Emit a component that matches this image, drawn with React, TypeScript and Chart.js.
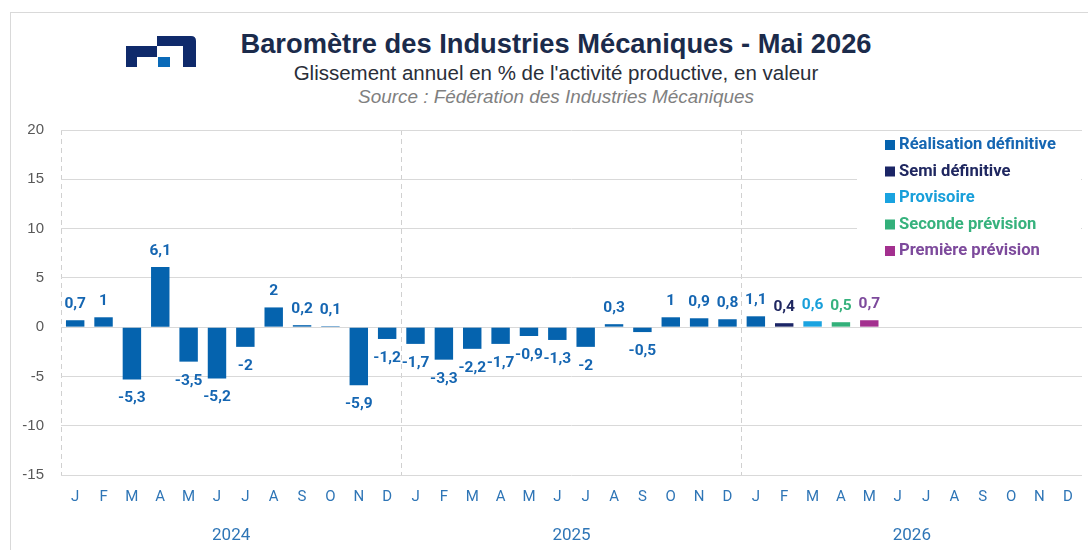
import React, { useEffect, useRef } from 'react';
import { Chart, registerables } from 'chart.js';

Chart.register(...registerables);

const N = null;

const years = ['2024', '2025', '2026'];
const monthLetters = ['J', 'F', 'M', 'A', 'M', 'J', 'J', 'A', 'S', 'O', 'N', 'D'];
const categories = years.flatMap(() => monthLetters);

const realisationDefinitive = [
  0.7, 1, -5.3, 6.1, -3.5, -5.2, -2, 2, 0.2, 0.1, -5.9, -1.2,
  -1.7, -3.3, -2.2, -1.7, -0.9, -1.3, -2, 0.3, -0.5, 1, 0.9, 0.8,
  1.1, N, N, N, N, N, N, N, N, N, N, N,
];
const semiDefinitive = [
  N, N, N, N, N, N, N, N, N, N, N, N,
  N, N, N, N, N, N, N, N, N, N, N, N,
  N, 0.4, N, N, N, N, N, N, N, N, N, N,
];
const provisoire = [
  N, N, N, N, N, N, N, N, N, N, N, N,
  N, N, N, N, N, N, N, N, N, N, N, N,
  N, N, 0.6, N, N, N, N, N, N, N, N, N,
];
const secondePrevision = [
  N, N, N, N, N, N, N, N, N, N, N, N,
  N, N, N, N, N, N, N, N, N, N, N, N,
  N, N, N, 0.5, N, N, N, N, N, N, N, N,
];
const premierePrevision = [
  N, N, N, N, N, N, N, N, N, N, N, N,
  N, N, N, N, N, N, N, N, N, N, N, N,
  N, N, N, N, 0.7, N, N, N, N, N, N, N,
];

const seriesNames = [
  'Réalisation définitive',
  'Semi définitive',
  'Provisoire',
  'Seconde prévision',
  'Première prévision',
];
const seriesValues = [realisationDefinitive, semiDefinitive, provisoire, secondePrevision, premierePrevision];
const barColors = ['#0563AE', '#1B2566', '#1AA3E0', '#33B07A', '#A3308F'];
const textColors = ['#1566B2', '#1F2760', '#189FDA', '#36B27D', '#7D4A9C'];

const fmt = (v: number) => String(v).replace('.', ',');

const dataLabelPlugin = {
  id: 'dataLabels',
  afterDatasetsDraw(chart: any) {
    const ctx = chart.ctx;
    ctx.save();
    ctx.font = 'bold 15.5px Roboto';
    ctx.textAlign = 'center';
    ctx.textBaseline = 'middle';
    chart.data.datasets.forEach((ds: any, di: number) => {
      const meta = chart.getDatasetMeta(di);
      meta.data.forEach((el: any, i: number) => {
        const v = ds.data[i];
        if (v === null || v === undefined) return;
        ctx.fillStyle = textColors[di];
        const y = v >= 0 ? el.y - 16 : el.y + 19;
        ctx.fillText(fmt(v), el.x, y);
      });
    });
    ctx.restore();
  },
};

const legendPlugin = {
  id: 'customLegend',
  beforeDatasetsDraw(chart: any) {
    const { ctx, chartArea } = chart;
    ctx.save();
    const left = chartArea.right - 225;
    ctx.fillStyle = '#ffffff';
    ctx.fillRect(left, chartArea.top + 1, 224, 137);
    ctx.font = 'bold 16.6px Roboto';
    ctx.textBaseline = 'middle';
    ctx.textAlign = 'left';
    seriesNames.forEach((name, i) => {
      const cy = chartArea.top + 15 + i * 26.5;
      ctx.fillStyle = barColors[i];
      ctx.fillRect(left + 28, cy - 5, 10, 10);
      ctx.fillStyle = textColors[i];
      ctx.fillText(name, left + 42, cy);
    });
    ctx.restore();
  },
};

export default function App() {
  const canvasRef = useRef<HTMLCanvasElement | null>(null);

  useEffect(() => {
    const canvas = canvasRef.current;
    if (!canvas) return;
    const chart = new Chart(canvas, {
      type: 'bar',
      data: {
        labels: categories,
        datasets: seriesNames.map((name, i) => ({
          label: name,
          data: seriesValues[i] as any,
          backgroundColor: barColors[i],
          xAxisID: 'x',
          yAxisID: 'y',
          grouped: false,
          barPercentage: 0.65,
          categoryPercentage: 1,
        })),
      },
      options: {
        responsive: false,
        animation: false,
        devicePixelRatio: 1,
        layout: { padding: { top: 130, right: 6, left: 0, bottom: 0 } },
        plugins: {
          legend: { display: false },
          title: { display: false },
          tooltip: { enabled: false },
        },
        scales: {
          x: {
            type: 'category',
            position: 'bottom',
            weight: 0,
            offset: true,
            grid: {
              offset: true,
              drawTicks: false,
              color: (c: any) => (c.index % 12 === 0 ? '#d0d0d0' : 'rgba(0,0,0,0)'),
              lineWidth: 1,
            },
            border: { display: false, dash: [5, 4] },
            ticks: {
              color: '#2E75B6',
              font: { family: 'Roboto', size: 15 },
              padding: 13,
              autoSkip: false,
              maxRotation: 0,
            },
            afterFit: (s: any) => {
              s.height = 40;
            },
          },
          x2: {
            type: 'category',
            labels: years,
            position: 'bottom',
            weight: 1,
            offset: true,
            grid: { display: false, drawTicks: false },
            border: { display: false },
            ticks: {
              color: '#2E75B6',
              font: { family: 'Roboto', size: 17 },
              padding: 11,
              maxRotation: 0,
            },
            afterFit: (s: any) => {
              s.height = 35;
            },
          },
          y: {
            min: -15,
            max: 20,
            ticks: {
              stepSize: 5,
              color: '#595959',
              font: { family: 'Liberation Sans', size: 15 },
              padding: 17,
            },
            grid: { color: '#d9d9d9', drawTicks: false },
            border: { display: false },
            afterFit: (s: any) => {
              s.width = 61;
            },
          },
        } as any,
      },
      plugins: [legendPlugin, dataLabelPlugin],
    });
    return () => chart.destroy();
  }, []);

  return (
    <div
      style={{
        position: 'absolute',
        left: 0,
        top: 0,
        width: 1088,
        height: 550,
        overflow: 'hidden',
        background: '#ffffff',
      }}
    >
      <div
        style={{
          position: 'absolute',
          left: 10,
          top: 12,
          width: 1200,
          height: 700,
          border: '1px solid #d9d9d9',
        }}
      />
      <svg
        style={{ position: 'absolute', left: 0, top: 0 }}
        width={300}
        height={100}
      >
        <path
          d="M157 36 H191 Q196 36 196 41 V67 H183 V46 H157 V57 H137 V67 H126 V46 H157 Z"
          fill="#0F2A6B"
        />
        <rect x={158} y={57} width={12} height={10} fill="#0A6AB8" />
      </svg>
      <div
        style={{
          position: 'absolute',
          left: 0,
          width: 1112,
          top: 28,
          textAlign: 'center',
          fontFamily: '"Liberation Sans", Arial, sans-serif',
          fontWeight: 'bold',
          fontSize: 27.3,
          lineHeight: '32px',
          color: '#1B2B4B',
          whiteSpace: 'nowrap',
        }}
      >
        Baromètre des Industries Mécaniques - Mai 2026
      </div>
      <div
        style={{
          position: 'absolute',
          left: 0,
          width: 1112,
          top: 61,
          textAlign: 'center',
          fontFamily: '"Liberation Sans", Arial, sans-serif',
          fontSize: 20.5,
          lineHeight: '24px',
          color: '#2A2E38',
          whiteSpace: 'nowrap',
        }}
      >
        Glissement annuel en % de l'activité productive, en valeur
      </div>
      <div
        style={{
          position: 'absolute',
          left: 0,
          width: 1112,
          top: 86,
          textAlign: 'center',
          fontFamily: '"Liberation Sans", Arial, sans-serif',
          fontStyle: 'italic',
          fontSize: 18.9,
          lineHeight: '22px',
          color: '#808080',
          whiteSpace: 'nowrap',
        }}
      >
        Source : Fédération des Industries Mécaniques
      </div>
      <canvas
        ref={canvasRef}
        width={1088}
        height={550}
        style={{ position: 'absolute', left: 0, top: 0, width: 1088, height: 550 }}
      />
    </div>
  );
}
